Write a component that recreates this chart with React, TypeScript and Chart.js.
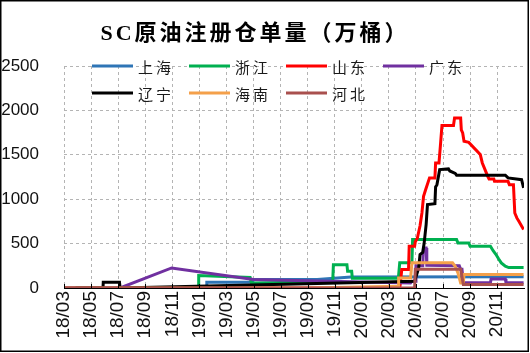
import React, { useEffect, useRef } from "react";
import { Chart, registerables } from "chart.js";

Chart.register(...registerables);

// x = months since 2018/03 (0 = 18/03), y = 万桶
const titleText = "SC原油注册仓单量（万桶）";
const tickLabels = [
  "18/03", "18/05", "18/07", "18/09", "18/11", "19/01", "19/03", "19/05", "19/07",
  "19/09", "19/11", "20/01", "20/03", "20/05", "20/07", "20/09", "20/11",
];
const seriesNames = ["上海", "浙江", "山东", "广东", "辽宁", "海南", "河北"];
const seriesColors = ["#2E75B6", "#00B050", "#FF0000", "#7030A0", "#000000", "#F4A04A", "#A9504E"];

const shanghai: [number, number][] = [
  [0, 0], [10.5, 0], [10.55, 64], [13.9, 64], [13.95, 95], [18.7, 95], [21.2, 125], [33.95, 128],
];
const zhejiang: [number, number][] = [
  [0, 0], [9.9, 0], [9.95, 140], [13.75, 118], [13.85, 57], [16.0, 62], [19.85, 75], [19.9, 263],
  [20.9, 263], [20.95, 188], [21.25, 188], [21.3, 110], [24.7, 110], [24.8, 283], [25.7, 283],
  [25.75, 545], [29.0, 545], [29.1, 508], [29.9, 508], [30.0, 470], [31.5, 470], [31.7, 420],
  [31.9, 380], [32.1, 330], [32.3, 283], [32.6, 245], [32.85, 230], [33.95, 230],
];
const shandong: [number, number][] = [
  [0, 0], [24.8, 0], [24.85, 57], [24.95, 207], [25.45, 207], [25.5, 470], [25.9, 470],
  [25.95, 520], [26.1, 560], [26.3, 700], [26.44, 845], [26.56, 1032], [26.7, 1100], [27.0, 1240],
  [27.4, 1240], [27.45, 1408], [27.7, 1408], [27.8, 1596], [27.92, 1829], [28.77, 1829],
  [28.85, 1915], [29.3, 1915], [29.35, 1780], [29.45, 1746], [29.55, 1652], [29.9, 1640],
  [30.75, 1503], [30.9, 1408], [31.1, 1333], [31.3, 1258], [31.4, 1228], [31.75, 1228],
  [31.8, 1201], [32.8, 1201], [32.9, 1164], [33.2, 1164], [33.3, 845], [33.45, 789],
  [33.6, 751], [33.95, 658],
];
const guangdong: [number, number][] = [
  [0, 0], [4.14, 0], [7.95, 226], [14.0, 95], [18.7, 80], [25.6, 57], [25.7, 75], [25.95, 75],
  [26.0, 250], [26.5, 250], [26.55, 451], [26.75, 451], [26.8, 255], [29.2, 250], [29.3, 210],
  [29.4, 210], [29.5, 60], [31.5, 60], [31.55, 101], [32.6, 101], [32.65, 60], [33.95, 60],
];
const liaoning: [number, number][] = [
  [0.85, 0], [2.88, 0], [2.9, 64], [4.1, 64], [4.14, 0], [25.9, 75], [26.2, 226], [26.3, 376],
  [26.5, 400], [26.6, 500], [26.75, 714], [26.85, 940], [27.4, 950], [27.45, 1138],
  [27.55, 1164], [27.75, 1333], [28.4, 1341], [28.5, 1318], [28.9, 1291], [29.0, 1271],
  [32.6, 1271], [32.8, 1240], [33.8, 1220], [33.95, 1127],
];
const hainan: [number, number][] = [
  [0, 0], [18, 0], [24.7, 20], [24.72, 114], [25.6, 114], [25.7, 283], [28.7, 283], [28.9, 245],
  [29.1, 170], [29.3, 57], [29.5, 57], [29.55, 152], [33.95, 152],
];
const hebei: [number, number][] = [
  [0, 0], [25.9, 0], [25.95, 210], [29.3, 210], [29.5, 40], [33.95, 40],
];

const allSeries = [shanghai, zhejiang, shandong, guangdong, liaoning, hainan, hebei];
const yTicks = [0, 500, 1000, 1500, 2000, 2500];

const framePlugin = {
  id: "frame",
  beforeDraw(chart: any) {
    const ctx = chart.ctx;
    ctx.save();
    ctx.fillStyle = "#ffffff";
    ctx.fillRect(0, 0, chart.width, chart.height);
    ctx.restore();
  },
  afterDraw(chart: any) {
    const ctx = chart.ctx;
    const area = chart.chartArea;
    ctx.save();
    // inner tick marks on x axis
    const xs = chart.scales.x;
    ctx.strokeStyle = "#000";
    ctx.lineWidth = 1;
    xs.ticks.forEach((t: any) => {
      const px = Math.round(xs.getPixelForValue(t.value)) + 0.5;
      ctx.beginPath();
      ctx.moveTo(px, area.bottom);
      ctx.lineTo(px, area.bottom - 4);
      ctx.stroke();
    });
    // title
    ctx.fillStyle = "#000";
    ctx.font = 'bold 22px "Liberation Serif", "Noto Sans CJK SC"';
    (ctx as any).letterSpacing = "3px";
    ctx.textAlign = "center";
    ctx.textBaseline = "middle";
    ctx.fillText(titleText, area.left + 191, 34);
    // legend
    ctx.font = '15px "Noto Sans CJK SC"';
    (ctx as any).letterSpacing = "3px";
    ctx.textAlign = "left";
    seriesNames.forEach((name, i) => {
      const col = i % 4;
      const row = Math.floor(i / 4);
      const x = area.left + 28 + col * 97;
      const y = area.top + row * 27;
      ctx.strokeStyle = seriesColors[i];
      ctx.lineWidth = 3;
      ctx.beginPath();
      ctx.moveTo(x, y);
      ctx.lineTo(x + 41, y);
      ctx.stroke();
      ctx.fillStyle = "#1a1a1a";
      ctx.fillText(name, x + 46, y + 1);
    });
    (ctx as any).letterSpacing = "0px";
    // outer border
    ctx.strokeStyle = "#000";
    ctx.lineWidth = 1.5;
    ctx.strokeRect(0.75, 0.75, chart.width - 2.5, chart.height - 2.5);
    ctx.restore();
  },
};

function App() {
  const ref = useRef<HTMLCanvasElement | null>(null);
  useEffect(() => {
    if (!ref.current) return;
    const chart = new Chart(ref.current, {
      type: "line",
      data: {
        datasets: allSeries.map((s, i) => ({
          label: seriesNames[i],
          data: s.map(([x, y]) => ({ x, y })),
          borderColor: seriesColors[i],
          backgroundColor: seriesColors[i],
          borderWidth: 3,
          pointRadius: 0,
          tension: 0,
          fill: false,
          order: allSeries.length - 1 - i,
        })),
      },
      options: {
        responsive: false,
        animation: false,
        events: [],
        layout: { padding: { top: 66, right: 6, bottom: 0, left: 0 } },
        plugins: {
          legend: { display: false },
          title: { display: false },
          tooltip: { enabled: false },
        },
        scales: {
          x: {
            type: "linear",
            min: 0,
            max: 33.98,
            afterFit: (scale: any) => {
              scale.height = 65;
            },
            grid: { color: "#b4b4b4", drawTicks: false, lineWidth: 1 },
            border: { display: true, color: "#000", width: 1, dash: [3, 3] },
            ticks: {
              stepSize: 2,
              includeBounds: false,
              autoSkip: false,
              maxRotation: 90,
              minRotation: 90,
              padding: 3,
              color: "#111",
              font: { family: '"Liberation Sans", Arial', size: 19 },
              callback: (v: any) => {
                const i = Number(v) / 2;
                return Number.isInteger(i) && tickLabels[i] ? tickLabels[i] : "";
              },
            },
          },
          y: {
            min: yTicks[0],
            max: yTicks[yTicks.length - 1],
            afterFit: (scale: any) => {
              scale.width = 64;
            },
            grid: {
              color: (c: any) => (c.tick && c.tick.value === 0 ? "rgba(0,0,0,0)" : "#b4b4b4"),
              drawTicks: false,
              lineWidth: 1,
            },
            border: { display: false, dash: [3, 3] },
            ticks: {
              stepSize: 500,
              padding: 25,
              color: "#111",
              font: { family: '"Liberation Sans", Arial', size: 17 },
              callback: (v: any) => String(v),
            },
          },
        },
      },
      plugins: [framePlugin],
    } as any);
    return () => chart.destroy();
  }, []);
  return (
    <div style={{ position: "absolute", left: 0, top: 0, width: 530, height: 353 }}>
      <canvas ref={ref} width={530} height={353} style={{ width: 530, height: 353, display: "block" }} />
    </div>
  );
}

export default App;
